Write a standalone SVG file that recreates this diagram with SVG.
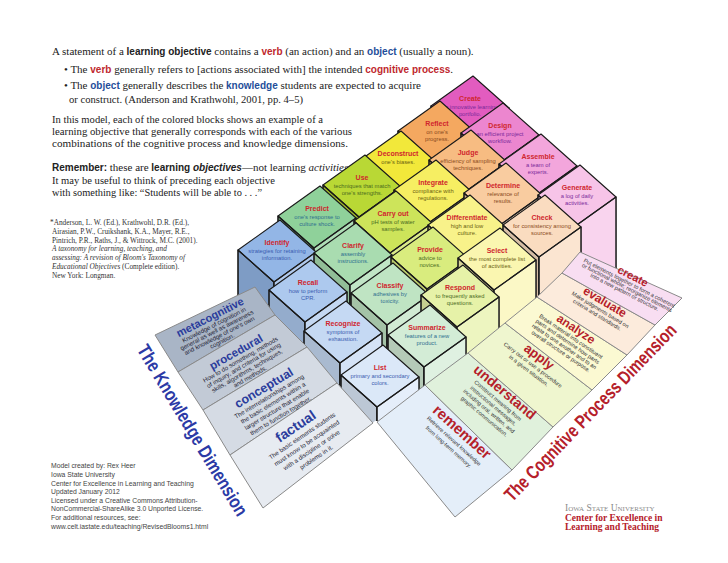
<svg xmlns="http://www.w3.org/2000/svg" xmlns:xlink="http://www.w3.org/1999/xlink" width="728" height="563" viewBox="0 0 728 563">
<style>
.body{font-family:"Liberation Serif",serif;font-size:11px;fill:#222}
.bs{font-family:"Liberation Sans",sans-serif;font-weight:bold;font-size:10px}
.red{fill:#c0282e}.blu{fill:#1f4e9a}
.cit{font-family:"Liberation Serif",serif;font-size:7.3px;fill:#333}
.foot{font-family:"Liberation Sans",sans-serif;font-size:6.8px;fill:#444}
.t{font-family:"Liberation Sans Narrow","Liberation Sans",sans-serif;font-weight:bold;font-size:7px;fill:#d0262e;text-anchor:middle}
.d{font-family:"Liberation Sans Narrow","Liberation Sans",sans-serif;font-size:5.8px;text-anchor:middle}
.k0 .d{fill:#3a5bb0}.k1 .d{fill:#2f6f8f}.k2 .d{fill:#4b6b1f}.k3 .d{fill:#6b5f10}.k4 .d{fill:#8a4a20}.k5 .d{fill:#7a2a9a}
.sl{fill:#000;fill-opacity:.14}.sr{fill:#fff;fill-opacity:.28}
.strip{stroke:#8a8a8a;stroke-width:1}
.ct{font-family:"Liberation Sans",sans-serif;font-weight:bold;fill:#b5202a;text-anchor:middle}
.cd{font-family:"Liberation Sans",sans-serif;font-size:5.6px;fill:#333;text-anchor:middle}
.kt{font-family:"Liberation Sans",sans-serif;font-weight:bold;fill:#2a3c9c;text-anchor:middle}
.kd{font-family:"Liberation Sans",sans-serif;font-size:6.2px;fill:#223;text-anchor:middle}
</style>
<defs>
<polygon id="T" points="3,-22 39,10 -3,40 -39,8" stroke="#1a1a1a" stroke-width="1.1" stroke-linejoin="round"/>
<polygon id="L" points="-39,8 -3,40 -3,120 -39,88" stroke="#1a1a1a" stroke-width="1.1" stroke-linejoin="round"/>
<polygon id="R" points="-3,40 39,10 39,90 -3,120" stroke="#1a1a1a" stroke-width="1.1" stroke-linejoin="round"/>
</defs>
<rect width="728" height="563" fill="#fff"/>

<g id="intro">
<text class="body" x="52" y="55">A statement of a <tspan class="bs" fill="#222">learning objective</tspan> contains a <tspan class="bs red">verb</tspan> (an action) and an <tspan class="bs blu">object</tspan> (usually a noun).</text>
<text class="body" x="64" y="73" font-size="10.3">• The <tspan class="bs red" font-size="9.5">verb</tspan> generally refers to [actions associated with] the intended <tspan class="bs red" font-size="9.5">cognitive process</tspan>.</text>
<text class="body" x="64" y="89" font-size="10.5">• The <tspan class="bs blu" font-size="9.5">object</tspan> generally describes the <tspan class="bs blu" font-size="9.5">knowledge</tspan> students are expected to acquire</text>
<text class="body" x="69" y="103" textLength="234" lengthAdjust="spacingAndGlyphs">or construct. (Anderson and Krathwohl, 2001, pp. 4–5)</text>
<text class="body" x="52" y="123" textLength="271" lengthAdjust="spacingAndGlyphs">In this model, each of the colored blocks shows an example of a</text>
<text class="body" x="52" y="135" textLength="300" lengthAdjust="spacingAndGlyphs">learning objective that generally corresponds with each of the various</text>
<text class="body" x="52" y="147" textLength="296" lengthAdjust="spacingAndGlyphs">combinations of the cognitive process and knowledge dimensions.</text>
<text class="body" x="52" y="171" font-size="9.8"><tspan class="bs" fill="#222" font-size="9.3">Remember:</tspan> these are <tspan class="bs" fill="#222" font-size="9.3">learning <tspan font-style="italic">objectives</tspan></tspan>—not learning <tspan font-style="italic">activities</tspan>.</text>
<text class="body" x="52" y="184" textLength="223" lengthAdjust="spacingAndGlyphs">It may be useful to think of preceding each objective</text>
<text class="body" x="52" y="196" textLength="210" lengthAdjust="spacingAndGlyphs">with something like: “Students will be able to . . .”</text>
</g>
<g id="citation">
<text class="cit" x="50" y="225">*Anderson, L. W. (Ed.), Krathwohl, D.R. (Ed.),</text>
<text class="cit" x="52" y="234">Airasian, P.W., Cruikshank, K.A., Mayer, R.E.,</text>
<text class="cit" x="52" y="243">Pintrich, P.R., Raths, J., &amp; Wittrock, M.C. (2001).</text>
<text class="cit" x="52" y="251" font-style="italic">A taxonomy for learning, teaching, and</text>
<text class="cit" x="52" y="260" font-style="italic">assessing: A revision of Bloom's Taxonomy of</text>
<text class="cit" x="52" y="269"><tspan font-style="italic">Educational Objectives</tspan> (Complete edition).</text>
<text class="cit" x="52" y="278">New York: Longman.</text>
</g>
<g id="footer">
<text class="foot" x="51" y="468">Model created by: Rex Heer</text>
<text class="foot" x="51" y="477">Iowa State University</text>
<text class="foot" x="51" y="486">Center for Excellence in Learning and Teaching</text>
<text class="foot" x="51" y="494">Updated January 2012</text>
<text class="foot" x="51" y="503">Licensed under a Creative Commons Attribution-</text>
<text class="foot" x="51" y="511">NonCommercial-ShareAlike 3.0 Unported License.</text>
<text class="foot" x="51" y="520">For additional resources, see:</text>
<text class="foot" x="51" y="529">www.celt.iastate.edu/teaching/RevisedBlooms1.html</text>
</g>

<g id="blocks">
<g id="b-create" class="k5" transform="translate(470,98)" fill="#e25cbf"><use xlink:href="#L"/><use xlink:href="#R"/><use xlink:href="#T"/><use xlink:href="#L" class="sl"/><use xlink:href="#R" class="sr"/><text class="t" y="3">Create</text><text class="d" y="11">an innovative learning</text><text class="d" y="18">portfolio.</text></g>
<g id="b-reflect" class="k4" transform="translate(437,123)" fill="#f4a860"><use xlink:href="#L"/><use xlink:href="#R"/><use xlink:href="#T"/><use xlink:href="#L" class="sl"/><use xlink:href="#R" class="sr"/><text class="t" y="3">Reflect</text><text class="d" y="11">on one's</text><text class="d" y="18">progress.</text></g>
<g id="b-design" class="k5" transform="translate(500,125)" fill="#ec86cf"><use xlink:href="#L"/><use xlink:href="#R"/><use xlink:href="#T"/><use xlink:href="#L" class="sl"/><use xlink:href="#R" class="sr"/><text class="t" y="3">Design</text><text class="d" y="11">an efficient project</text><text class="d" y="18">workflow.</text></g>
<g id="b-deconstruct" class="k3" transform="translate(398,153)" fill="#f2e83a"><use xlink:href="#L"/><use xlink:href="#R"/><use xlink:href="#T"/><use xlink:href="#L" class="sl"/><use xlink:href="#R" class="sr"/><text class="t" y="3">Deconstruct</text><text class="d" y="11">one's biases.</text></g>
<g id="b-judge" class="k4" transform="translate(468,152)" fill="#f7bc82"><use xlink:href="#L"/><use xlink:href="#R"/><use xlink:href="#T"/><use xlink:href="#L" class="sl"/><use xlink:href="#R" class="sr"/><text class="t" y="3">Judge</text><text class="d" y="11">efficiency of sampling</text><text class="d" y="18">techniques.</text></g>
<g id="b-assemble" class="k5" transform="translate(538,156)" fill="#f3a6dc"><use xlink:href="#L"/><use xlink:href="#R"/><use xlink:href="#T"/><use xlink:href="#L" class="sl"/><use xlink:href="#R" class="sr"/><text class="t" y="3">Assemble</text><text class="d" y="11">a team of</text><text class="d" y="18">experts.</text></g>
<g id="b-use" class="k2" transform="translate(362,177)" fill="#b9d835"><use xlink:href="#L"/><use xlink:href="#R"/><use xlink:href="#T"/><use xlink:href="#L" class="sl"/><use xlink:href="#R" class="sr"/><text class="t" y="3">Use</text><text class="d" y="11">techniques that match</text><text class="d" y="18">one's strengths.</text></g>
<g id="b-integrate" class="k3" transform="translate(433,182)" fill="#f6ee62"><use xlink:href="#L"/><use xlink:href="#R"/><use xlink:href="#T"/><use xlink:href="#L" class="sl"/><use xlink:href="#R" class="sr"/><text class="t" y="3">Integrate</text><text class="d" y="11">compliance with</text><text class="d" y="18">regulations.</text></g>
<g id="b-determine" class="k4" transform="translate(503,185)" fill="#f9cca0"><use xlink:href="#L"/><use xlink:href="#R"/><use xlink:href="#T"/><use xlink:href="#L" class="sl"/><use xlink:href="#R" class="sr"/><text class="t" y="3">Determine</text><text class="d" y="11">relevance of</text><text class="d" y="18">results.</text></g>
<g id="b-generate" class="k5" transform="translate(577,187)" fill="#f7c4e8"><use xlink:href="#L"/><use xlink:href="#R"/><use xlink:href="#T"/><use xlink:href="#L" class="sl"/><use xlink:href="#R" class="sr"/><text class="t" y="3">Generate</text><text class="d" y="11">a log of daily</text><text class="d" y="18">activities.</text></g>
<g id="b-predict" class="k1" transform="translate(317,208)" fill="#8fd19a"><use xlink:href="#L"/><use xlink:href="#R"/><use xlink:href="#T"/><use xlink:href="#L" class="sl"/><use xlink:href="#R" class="sr"/><text class="t" y="3">Predict</text><text class="d" y="11">one's response to</text><text class="d" y="18">culture shock.</text></g>
<g id="b-carryout" class="k2" transform="translate(393,213)" fill="#cde45a"><use xlink:href="#L"/><use xlink:href="#R"/><use xlink:href="#T"/><use xlink:href="#L" class="sl"/><use xlink:href="#R" class="sr"/><text class="t" y="3">Carry out</text><text class="d" y="11">pH tests of water</text><text class="d" y="18">samples.</text></g>
<g id="b-differentiate" class="k3" transform="translate(467,217)" fill="#f8f28a"><use xlink:href="#L"/><use xlink:href="#R"/><use xlink:href="#T"/><use xlink:href="#L" class="sl"/><use xlink:href="#R" class="sr"/><text class="t" y="3">Differentiate</text><text class="d" y="11">high and low</text><text class="d" y="18">culture.</text></g>
<g id="b-check" class="k4" transform="translate(542,217)" fill="#fadcc0"><use xlink:href="#L"/><use xlink:href="#R"/><use xlink:href="#T"/><use xlink:href="#L" class="sl"/><use xlink:href="#R" class="sr"/><text class="t" y="3">Check</text><text class="d" y="11">for consistency among</text><text class="d" y="18">sources.</text></g>
<g id="b-identify" class="k0" transform="translate(277,242)" fill="#93b6e6"><use xlink:href="#L"/><use xlink:href="#R"/><use xlink:href="#T"/><use xlink:href="#L" class="sl"/><use xlink:href="#R" class="sr"/><text class="t" y="3">Identify</text><text class="d" y="11">strategies for retaining</text><text class="d" y="18">information.</text></g>
<g id="b-clarify" class="k1" transform="translate(353,245)" fill="#a9dcb0"><use xlink:href="#L"/><use xlink:href="#R"/><use xlink:href="#T"/><use xlink:href="#L" class="sl"/><use xlink:href="#R" class="sr"/><text class="t" y="3">Clarify</text><text class="d" y="11">assembly</text><text class="d" y="18">instructions.</text></g>
<g id="b-provide" class="k2" transform="translate(430,249)" fill="#d9ec7e"><use xlink:href="#L"/><use xlink:href="#R"/><use xlink:href="#T"/><use xlink:href="#L" class="sl"/><use xlink:href="#R" class="sr"/><text class="t" y="3">Provide</text><text class="d" y="11">advice to</text><text class="d" y="18">novices.</text></g>
<g id="b-select" class="k3" transform="translate(497,250)" fill="#faf6b0"><use xlink:href="#L"/><use xlink:href="#R"/><use xlink:href="#T"/><use xlink:href="#L" class="sl"/><use xlink:href="#R" class="sr"/><text class="t" y="3">Select</text><text class="d" y="11">the most complete list</text><text class="d" y="18">of activities.</text></g>
<g id="b-recall" class="k0" transform="translate(308,282)" fill="#adc9ee"><use xlink:href="#L"/><use xlink:href="#R"/><use xlink:href="#T"/><use xlink:href="#L" class="sl"/><use xlink:href="#R" class="sr"/><text class="t" y="3">Recall</text><text class="d" y="11">how to perform</text><text class="d" y="18">CPR.</text></g>
<g id="b-classify" class="k1" transform="translate(390,285)" fill="#bfe4c3"><use xlink:href="#L"/><use xlink:href="#R"/><use xlink:href="#T"/><use xlink:href="#L" class="sl"/><use xlink:href="#R" class="sr"/><text class="t" y="3">Classify</text><text class="d" y="11">adhesives by</text><text class="d" y="18">toxicity.</text></g>
<g id="b-respond" class="k2" transform="translate(460,287)" fill="#e6f2a8"><use xlink:href="#L"/><use xlink:href="#R"/><use xlink:href="#T"/><use xlink:href="#L" class="sl"/><use xlink:href="#R" class="sr"/><text class="t" y="3">Respond</text><text class="d" y="11">to frequently asked</text><text class="d" y="18">questions.</text></g>
<g id="b-recognize" class="k0" transform="translate(343,323)" fill="#c5d9f3"><use xlink:href="#L"/><use xlink:href="#R"/><use xlink:href="#T"/><use xlink:href="#L" class="sl"/><use xlink:href="#R" class="sr"/><text class="t" y="3">Recognize</text><text class="d" y="11">symptoms of</text><text class="d" y="18">exhaustion.</text></g>
<g id="b-summarize" class="k1" transform="translate(427,327)" fill="#d3ecd6"><use xlink:href="#L"/><use xlink:href="#R"/><use xlink:href="#T"/><use xlink:href="#L" class="sl"/><use xlink:href="#R" class="sr"/><text class="t" y="3">Summarize</text><text class="d" y="11">features of a new</text><text class="d" y="18">product.</text></g>
<g id="b-list" class="k0" transform="translate(380,367)" fill="#dbe8f8"><use xlink:href="#L"/><use xlink:href="#R"/><use xlink:href="#T"/><use xlink:href="#L" class="sl"/><use xlink:href="#R" class="sr"/><text class="t" y="3">List</text><text class="d" y="11">primary and secondary</text><text class="d" y="18">colors.</text></g>
</g>

<polygon id="cover" points="263,508 375,421 379,421 455,517 455,563 263,563" fill="#fff"/>

<g id="knowledge-panel">
<polygon class="strip" points="155,335 255,287 275,315 178,372" fill="#a9b5c6"/>
<polygon class="strip" points="178,372 275,315 307,347 203,410" fill="#c2cad6"/>
<polygon class="strip" points="203,410 307,347 337,383 230,455" fill="#d5dbe4"/>
<polygon class="strip" points="230,455 337,383 373,423 263,508" fill="#e7ebf1"/>
<g transform="translate(210,317) rotate(-27)"><text class="kt" font-size="11" y="4">metacognitive</text><text class="kd" font-size="5.6" y="11">Knowledge of cognition in</text><text class="kd" font-size="5.6" y="17">general as well as awareness</text><text class="kd" font-size="5.6" y="23">and knowledge of one's own</text><text class="kd" font-size="5.6" y="29">cognition.</text></g>
<g transform="translate(236,352) rotate(-30)"><text class="kt" font-size="11.5" y="4">procedural</text><text class="kd" font-size="5.8" y="11">How to do something, methods</text><text class="kd" font-size="5.8" y="17.5">of inquiry, and criteria for using</text><text class="kd" font-size="5.8" y="24">skills, algorithms, techniques,</text><text class="kd" font-size="5.8" y="30.5">and methods.</text></g>
<g transform="translate(264,388) rotate(-31)"><text class="kt" font-size="12.5" y="4">conceptual</text><text class="kd" font-size="6.4" y="12">The interrelationships among</text><text class="kd" font-size="6.4" y="19.5">the basic elements within a</text><text class="kd" font-size="6.4" y="27">larger structure that enable</text><text class="kd" font-size="6.4" y="34.5">them to function together.</text></g>
<g transform="translate(296,427) rotate(-34)"><text class="kt" font-size="14" y="4">factual</text><text class="kd" font-size="7" y="13">The basic elements students</text><text class="kd" font-size="7" y="21.5">must know to be acquainted</text><text class="kd" font-size="7" y="30">with a discipline or solve</text><text class="kd" font-size="7" y="38.5">problems in it.</text></g>
</g>

<g id="cognitive-panel">
<polygon class="strip" points="377,422 425,385 512,470 455,517" fill="#e4eef9"/>
<polygon class="strip" points="425,385 468,353 553,427 512,470" fill="#e0f1dc"/>
<polygon class="strip" points="468,353 505,323 592,390 553,427" fill="#eff6cf"/>
<polygon class="strip" points="505,323 537,297 627,355 592,390" fill="#fbf9d2"/>
<polygon class="strip" points="537,297 562,273 655,325 627,355" fill="#fcebdc"/>
<polygon class="strip" points="562,273 580,252 682,298 655,325" fill="#f8def2"/>
<g transform="translate(462,432) rotate(42)"><text class="ct" font-size="15" y="5">remember</text><text class="cd" font-size="6.6" y="14">Retrieve relevant knowledge</text><text class="cd" font-size="6.6" y="22">from long-term memory.</text></g>
<g transform="translate(505,392) rotate(40)"><text class="ct" font-size="14" y="5">understand</text><text class="cd" font-size="6.3" y="13">Construct meaning from</text><text class="cd" font-size="6.3" y="20">instructional messages,</text><text class="cd" font-size="6.3" y="27">including oral, written, and</text><text class="cd" font-size="6.3" y="34">graphic communication.</text></g>
<g transform="translate(539,357) rotate(37)"><text class="ct" font-size="13" y="4">apply</text><text class="cd" y="12">Carry out or use a procedure</text><text class="cd" y="19">in a given situation.</text></g>
<g transform="translate(576,329) rotate(34)"><text class="ct" font-size="12" y="4">analyze</text><text class="cd" font-size="5.2" y="11">Break material into constituent</text><text class="cd" font-size="5.2" y="17">parts and determine how parts</text><text class="cd" font-size="5.2" y="23">relate to one another and to an</text><text class="cd" font-size="5.2" y="29">overall structure or purpose.</text></g>
<g transform="translate(605,302) rotate(31)"><text class="ct" font-size="12" y="4">evaluate</text><text class="cd" font-size="5.2" y="11">Make judgments based on</text><text class="cd" font-size="5.2" y="17">criteria and standards.</text></g>
<g transform="translate(633,276) rotate(27)"><text class="ct" font-size="11" y="4">create</text><text class="cd" font-size="4.8" y="10">Put elements together to form a coherent</text><text class="cd" font-size="4.8" y="15">or functional whole; reorganize elements</text><text class="cd" font-size="4.8" y="20">into a new pattern or structure.</text></g>
</g>

<text id="knowledge-title" transform="translate(193,430) rotate(59)" font-family="Liberation Sans, sans-serif" font-weight="bold" font-size="19" fill="#2b3aa6" text-anchor="middle" dy="7" textLength="196" lengthAdjust="spacingAndGlyphs">The Knowledge Dimension</text>
<text id="cognitive-title" transform="translate(590,412) rotate(-46)" font-family="Liberation Sans, sans-serif" font-weight="bold" font-size="19" fill="#b5202a" text-anchor="middle" dy="7" textLength="238" lengthAdjust="spacingAndGlyphs">The Cognitive Process Dimension</text>

<g id="isu-logo" font-family="Liberation Serif, serif">
<text x="565" y="511" font-size="9.5" fill="#8a8a8a" font-variant="small-caps">Iowa State University</text>
<text x="565" y="521" font-size="9.5" font-weight="bold" fill="#b5202a">Center for Excellence in</text>
<text x="565" y="530" font-size="9.5" font-weight="bold" fill="#b5202a">Learning and Teaching</text>
</g>
</svg>
